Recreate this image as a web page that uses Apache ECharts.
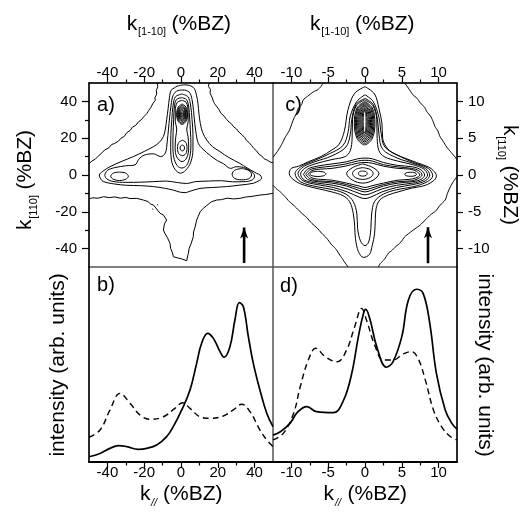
<!DOCTYPE html>
<html><head><meta charset="utf-8">
<script src="https://cdn.jsdelivr.net/npm/echarts@6/dist/echarts.min.js"></script>
<style>html,body{margin:0;padding:0;background:#fff}#c{width:532px;height:515px}</style>
</head><body><div id="c"></div>
<script>
// ---------- tick labels ----------
const ticksA = [-40, -20, 0, 20, 40];
const minorA = [-30, -10, 10, 30];
const ticksC = [-10, -5, 0, 5, 10];
const minorC = [-7.5, -2.5, 2.5, 7.5];

// ---------- panel a) contours (k[1-10], k[110]) ----------
const aOuterLeft = [[-13,50],[-12.6,48],[-13.4,46],[-13.2,44],[-14.2,42],[-14,40.5],[-15.2,39],[-16.5,36.5],[-17.6,35],[-18.5,33.4],[-20.3,31.6],[-21.6,30],[-23,29],[-24.6,27],[-26.4,26],[-27.6,24.2],[-29.5,23],[-30.8,21],[-32.6,20],[-34,18.4],[-36,17.2],[-37.8,16.5],[-39.4,14.6],[-41.5,13.6],[-43,12],[-45,10.2],[-46.6,8.6],[-48.4,7.6],[-50,6.2]];
const aOuterRight = [[15.2,50],[15,48],[16,46.5],[15.8,44.5],[16.8,42.4],[17.6,40],[18.2,38.8],[19.6,37],[20.6,35.6],[21.6,33.7],[23.4,32],[24.8,30.2],[26.1,28.8],[27.4,27.8],[28.6,26.2],[30.2,25],[31.4,23.4],[33,22],[34.6,20.4],[35.6,18.8],[37,17.6],[38.4,16],[39.6,14.4],[41,13.2],[42.4,11.2],[43.8,10.4],[45.2,8.8],[47,8],[48.6,7],[50,6.6]];
const aBottom = [[-50,-13],[-48,-12.4],[-45,-12.6],[-42,-11.8],[-39,-12.3],[-36,-11.9],[-33,-12.6],[-30,-12.2],[-27.7,-12.8],[-24,-12.7],[-20.5,-13.6],[-18,-14.4],[-16.5,-15.8],[-15,-16.3],[-13.6,-18],[-11.4,-20.8],[-9.5,-21.8],[-7.8,-24.5],[-9,-26.6],[-9.6,-29.9],[-8.6,-32],[-7.4,-34],[-6,-37.1],[-5.6,-40],[-4.6,-42.4],[-4.2,-44.4],[-2,-45],[0.4,-45.6],[3.1,-46.6],[3.6,-44],[4,-42.6],[4.4,-40],[5.6,-37],[6.7,-33.5],[6.8,-31],[7.6,-28.5],[8.5,-24.5],[9.4,-22.4],[10.4,-20],[12.1,-18.1],[14,-16.6],[16.4,-14.6],[19.4,-13.6],[22,-13.4],[25,-12.6],[28.6,-13],[32,-12.7],[35,-12],[38.6,-11.6],[42.9,-10.9],[46,-10.6],[50,-10]];
const aSpeck1 = [[-13,-16],[-12.4,-16.4]];
const aSpeck2 = [[-15.6,-18.3],[-15,-18.8]];
const aL2 = [[1.6,49],[-2,48.3],[-3.8,47.2],[-5.4,46],[-6.3,42],[-7,36],[-7.8,30],[-8.5,25],[-9.6,20.8],[-12,17.5],[-15,15.4],[-20,12.8],[-25.9,10],[-32,7.5],[-38.6,4.5],[-42.5,2],[-44.4,0],[-43.5,-2.3],[-42.2,-3.6],[-36,-4.9],[-29.5,-5.6],[-22,-5.8],[-15,-6.3],[-9,-7.2],[-4.2,-8.2],[-1,-9.2],[2.2,-9.6],[5,-8.8],[10.3,-7.3],[17,-6.8],[24.8,-6.3],[32,-5.5],[39.3,-4.5],[42.5,-3],[43.8,-1.8],[43,0],[41.1,0.9],[36,3.8],[32,6.3],[26,9.5],[21.2,12.7],[17,15.5],[14,19],[11.8,23],[10.5,28],[9.8,33],[9.2,39],[8.5,43],[7.2,47],[4.5,48.7],[1.6,49]];
const aL3 = [[-41.5,0],[-40,2.5],[-36,4],[-30,5],[-25,5.5],[-23,8.5],[-20,10.8],[-15,11.5],[-11,10],[-8.5,12],[-7.5,18],[-6.8,25],[-6.2,31],[-5.4,38],[-4.4,43],[-2.5,45.5],[1,46.2],[4.5,45],[6,41],[6.8,35],[7.5,28],[8.3,22],[9.5,17],[12,14],[16,10.5],[19.8,7.8],[23,6.2],[27,3.6],[30,4.5],[34,4.1],[38,2],[40,-0.5],[39,-2.5],[35,-3.6],[28,-3.7],[22,-3.1],[15,-3.3],[8,-3.6],[3,-4.6],[-2,-4.1],[-8,-3.3],[-15,-3.6],[-22,-3.9],[-30,-4],[-37,-3.5],[-40.5,-2],[-41.5,0]];
const aLobeL = [[-33.4,1.6],[-36.8,1],[-38.2,-0.7],[-36.8,-2.3],[-33.4,-3],[-30,-2.3],[-28.6,-0.7],[-30,1],[-33.4,1.6]];
const aLobeR = [[33,3.5],[29.2,2.6],[27.8,0.5],[29,-1.8],[33,-2.6],[36.8,-2],[38.4,0],[37,2.4],[33,3.5]];
const aCol1 = [[0.5,44],[-3,42.5],[-4.3,38],[-5,30],[-5.5,22],[-5.6,15],[-5.2,8],[-3.2,3],[-0.3,1],[2.5,2.5],[5.3,7],[6.5,14],[6.5,22],[6,30],[5.2,38],[3.8,42.5],[0.5,44]];
const aCol2 = [[0.5,42],[-2.5,41],[-3.6,37],[-4,30],[-4.3,23],[-4.4,16],[-3.9,9.5],[-2,5],[0.5,3.8],[3,5.2],[4.8,10],[5.4,17],[5.1,24],[4.7,31],[4.2,37],[3,41],[0.5,42]];
const aCol3 = [[0.6,40.5],[-2,39.5],[-3.1,35],[-3.1,29],[-2.3,25],[-2.8,21],[-3.2,15],[-2.3,9.8],[0.6,7.3],[3.1,9.3],[4.2,15],[3.8,21],[3.1,25],[3.9,29],[3.8,35],[2.8,39.5],[0.6,40.5]];
const aLow1 = [[0.7,18.9],[-1.2,17.7],[-1.9,14.7],[-1.2,11.6],[0.7,10.5],[2.6,11.6],[3.3,14.7],[2.6,17.7],[0.7,18.9]];
const aLow2 = [[0.7,16.3],[-0.2,15.8],[-0.5,14.7],[-0.2,13.6],[0.7,13.1],[1.6,13.6],[1.9,14.7],[1.6,15.8],[0.7,16.3]];
const aUp1 = [[0.6,38.6],[-1.5,36.9],[-2.4,33],[-1.5,29.2],[0.6,27.5],[2.7,29.2],[3.6,33],[2.7,36.9],[0.6,38.6]];
const aUp2 = [[0.6,37.9],[-1.2,36.4],[-2,33],[-1.2,29.6],[0.6,28.2],[2.4,29.6],[3.2,33],[2.4,36.4],[0.6,37.9]];
const aUp3 = [[0.6,37.2],[-0.9,35.9],[-1.6,33],[-0.9,30.1],[0.6,28.9],[2.1,30.1],[2.8,33],[2.1,35.9],[0.6,37.2]];
const aUp4 = [[0.6,36.5],[-0.7,35.5],[-1.25,33],[-0.7,30.6],[0.6,29.6],[1.9,30.6],[2.45,33],[1.9,35.5],[0.6,36.5]];
const aUp5 = [[0.6,35.8],[-0.45,35],[-0.9,33],[-0.45,31],[0.6,30.2],[1.65,31],[2.1,33],[1.65,35],[0.6,35.8]];
const aUp6 = [[0.6,35.1],[-0.2,34.5],[-0.55,33],[-0.2,31.5],[0.6,30.9],[1.4,31.5],[1.75,33],[1.4,34.5],[0.6,35.1]];
const aUp7 = [[0.6,34.4],[0.05,34],[-0.2,33],[0.05,32],[0.6,31.6],[1.15,32],[1.4,33],[1.15,34],[0.6,34.4]];
const aUp8 = [[0.6,33.8],[0.3,33.55],[0.15,33],[0.3,32.45],[0.6,32.2],[0.9,32.45],[1.05,33],[0.9,33.55],[0.6,33.8]];
const aArrow = [[34.3,-47.8],[34.3,-28.5]];

// ---------- panel c) contours ----------
const cTL = [[-5.7,12.5],[-6,12],[-6.4,11.6],[-7,11.3],[-7.8,10.7],[-8.4,10.2],[-8.6,9.6],[-9.1,9],[-9.3,8.4],[-9.7,7.6],[-10,6.8],[-10.3,6],[-10.8,5.2],[-11.1,4.6],[-11.4,4],[-11.9,3.2],[-12.5,2.4]];
const cTR = [[5.4,12.5],[5.9,11.8],[6.5,10.9],[7.1,10.4],[7.5,9.8],[8.1,9.2],[8.4,8.6],[8.9,8],[9.2,7.4],[9.5,6.6],[9.9,6],[10.2,5.2],[10.6,4.6],[11.1,3.8],[11.6,3.2],[12.1,2.6],[12.5,2.1]];
const cBR = [[12.5,-0.2],[12,-0.9],[11.6,-1.6],[11.2,-2.5],[10.9,-3.4],[10.2,-4.1],[9.6,-4.9],[8.9,-5.4],[8.2,-6.1],[7.5,-6.8],[6.8,-7.3],[6,-7.9],[5.4,-8.4],[4.8,-9.2],[4.2,-9.7],[3.6,-10.3],[3.2,-10.6],[2.6,-11.5],[2.1,-12],[1.8,-12.5]];
const cBL = [[-12.5,-1.4],[-12,-1.9],[-11.5,-2.3],[-10.9,-2.9],[-10.3,-3.6],[-9.6,-4.2],[-9,-4.8],[-8.6,-5.2],[-7.9,-5.8],[-7.2,-6.6],[-6.5,-7.2],[-5.9,-7.9],[-5.2,-8.6],[-4.6,-9.4],[-4,-10],[-3.6,-10.6],[-3.2,-11.2],[-2.8,-11.8],[-2.3,-12.5]];
const cL2 = [[0,12],[-1.4,11.1],[-2.3,8.9],[-2.8,6],[-3.5,4.2],[-4.5,3.4],[-6,2.5],[-7.7,1.8],[-9,1.2],[-10,0.9],[-10.3,0.2],[-9.5,-0.8],[-8.2,-1.4],[-6.2,-1.9],[-4.5,-2.3],[-3,-2.8],[-2.1,-3.6],[-1.6,-5.2],[-1.4,-7],[-1.3,-8.6],[-0.9,-10.4],[-0.2,-11.2],[0.6,-10.8],[1,-9.5],[1.3,-8],[1.4,-6],[1.5,-4.6],[2,-3.4],[3.2,-2.7],[4.5,-2.3],[6.3,-1.8],[8.2,-1.4],[9.4,-0.7],[9.7,-0.1],[9.3,0.6],[8.6,1.1],[7,1.7],[5.4,2.3],[3.8,3],[2.9,3.8],[2.4,5],[2.3,7],[1.9,9],[1.3,11],[0,12]];
const cL3 = [[0,10.9],[-1.1,10],[-2,8],[-2.3,5.8],[-3,4],[-4.8,2.9],[-6.8,2],[-8.6,1.2],[-9.5,0.2],[-8.8,-0.9],[-6.5,-1.6],[-4.3,-2],[-2.6,-2.6],[-1.6,-3.6],[-1.1,-5.3],[-1,-7.3],[-0.6,-9],[0,-9.6],[0.5,-9.1],[0.8,-7.3],[0.9,-5.3],[1.3,-3.6],[2.5,-2.6],[4.3,-2],[6.5,-1.6],[8.5,-0.9],[9.2,-0.1],[8.6,0.9],[6.6,1.7],[4.6,2.6],[2.7,3.8],[2.2,5.6],[1.9,7.8],[1.1,10],[0,10.9]];
const cL4 = [[0,10.4],[-1.2,9.6],[-1.8,7.5],[-2,5.5],[-2.6,3.8],[-4.5,2.6],[-6.8,1.8],[-8.4,1.1],[-9.1,0.2],[-8.4,-0.8],[-6.5,-1.3],[-4.3,-1.7],[-2.4,-2.3],[-0.8,-3],[0,-3.2],[0.8,-3],[2.3,-2.3],[4.3,-1.7],[6.5,-1.3],[8.2,-0.8],[8.8,0],[8.2,0.9],[6.5,1.6],[4.4,2.3],[2.4,3.5],[1.9,5.5],[1.7,7.5],[1.1,9.6],[0,10.4]];
const cL5 = [[-0.05,10.2],[-1.15,9.45],[-1.7,7.5],[-1.75,5],[-2,3.3],[-2.7,2.5],[-4.5,2.1],[-6.8,1.5],[-8.2,0.9],[-8.75,0.1],[-8.2,-0.7],[-6.5,-1.1],[-4.3,-1.4],[-2.4,-1.9],[-0.8,-2.5],[0,-2.7],[0.8,-2.5],[2.3,-1.9],[4.3,-1.4],[6.5,-1.1],[7.9,-0.7],[8.5,0],[8,0.8],[6.5,1.4],[4.4,1.9],[2.6,2.5],[1.9,3.3],[1.65,5],[1.6,7.5],[1.05,9.45],[-0.05,10.2]];
const cB1 = [[-8.35,0.1],[-7.8,0.8],[-6.5,1.2],[-4.5,1.5],[-2.5,1.8],[-1,2.2],[0,2.3],[1,2.2],[2.5,1.7],[4.5,1.3],[6.5,1.1],[7.6,0.7],[8.1,0],[7.6,-0.6],[6.5,-0.9],[4.5,-1.1],[2.5,-1.5],[0.8,-2.1],[0,-2.3],[-0.8,-2.1],[-2.5,-1.5],[-4.5,-1.1],[-6.5,-0.9],[-7.8,-0.6],[-8.35,0.1]];
const cB2 = [[-8.05,0.1],[-7.5,0.7],[-6.3,1],[-4.5,1.2],[-2.6,1.5],[-1,1.9],[0,2],[1,1.9],[2.5,1.4],[4.5,1.1],[6.3,0.9],[7.3,0.6],[7.75,0],[7.2,-0.5],[6.3,-0.8],[4.5,-0.9],[2.5,-1.3],[0.8,-1.8],[0,-2],[-0.8,-1.8],[-2.5,-1.3],[-4.5,-0.9],[-6.3,-0.8],[-7.5,-0.5],[-8.05,0.1]];
const cB3 = [[-7.75,0.1],[-7.2,0.6],[-6,0.8],[-4.5,0.9],[-2.7,1.2],[-1,1.6],[0,1.7],[1,1.6],[2.5,1.2],[4.5,0.9],[6,0.8],[7,0.5],[7.45,0],[6.9,-0.4],[6,-0.6],[4.5,-0.7],[2.5,-1.1],[0.8,-1.5],[0,-1.7],[-0.8,-1.5],[-2.5,-1.1],[-4.5,-0.7],[-6,-0.6],[-7.2,-0.4],[-7.75,0.1]];
const cLobeL = [[-6.4,0.5],[-7.2,0.4],[-7.5,0.15],[-7.2,-0.1],[-6.4,-0.2],[-5.6,-0.1],[-5.3,0.15],[-5.6,0.4],[-6.4,0.5]];
const cLobeR = [[6.2,0.38],[5.6,0.3],[5.4,0.1],[5.6,-0.1],[6.2,-0.18],[6.8,-0.1],[7,0.1],[6.8,0.3],[6.2,0.38]];
const cP1 = [[-0.3,1.5],[-1.7,1],[-2.5,0.2],[-1.7,-0.7],[-0.3,-1.1],[1.1,-0.7],[1.9,0.2],[1.1,1],[-0.3,1.5]];
const cP2 = [[-0.3,1],[-1.3,0.75],[-1.7,0.2],[-1.3,-0.35],[-0.3,-0.6],[0.7,-0.35],[1.1,0.2],[0.7,0.75],[-0.3,1]];
const cP3 = [[-0.3,0.55],[-0.75,0.45],[-0.9,0.2],[-0.75,-0.05],[-0.3,-0.15],[0.15,-0.05],[0.3,0.2],[0.15,0.45],[-0.3,0.55]];
const cK1 = [[-0.05,10],[-1.1,9.1],[-1.45,7.05],[-1.1,5],[-0.05,4.1],[1,5],[1.35,7.05],[1,9.1],[-0.05,10]];
const cK2 = [[-0.05,9.85],[-0.99,9.02],[-1.3,7.08],[-0.99,5.13],[-0.05,4.3],[0.89,5.13],[1.2,7.08],[0.89,9.02],[-0.05,9.85]];
const cK3 = [[-0.05,9.7],[-0.88,8.92],[-1.15,7.1],[-0.88,5.28],[-0.05,4.5],[0.78,5.28],[1.05,7.1],[0.78,8.92],[-0.05,9.7]];
const cK4 = [[-0.05,9.55],[-0.76,8.82],[-1,7.13],[-0.76,5.43],[-0.05,4.7],[0.66,5.43],[0.9,7.13],[0.66,8.82],[-0.05,9.55]];
const cK5 = [[-0.05,9.4],[-0.65,8.73],[-0.85,7.15],[-0.65,5.57],[-0.05,4.9],[0.55,5.57],[0.75,7.15],[0.55,8.73],[-0.05,9.4]];
const cK6 = [[-0.05,9.25],[-0.54,8.63],[-0.7,7.18],[-0.54,5.72],[-0.05,5.1],[0.44,5.72],[0.6,7.18],[0.44,8.63],[-0.05,9.25]];
const cK7 = [[-0.05,9.1],[-0.43,8.53],[-0.55,7.2],[-0.43,5.87],[-0.05,5.3],[0.33,5.87],[0.45,7.2],[0.33,8.53],[-0.05,9.1]];
const cK8 = [[-0.05,8.95],[-0.31,8.43],[-0.4,7.23],[-0.31,6.02],[-0.05,5.5],[0.21,6.02],[0.3,7.23],[0.21,8.43],[-0.05,8.95]];
const cK9 = [[-0.05,8.8],[-0.2,8.34],[-0.25,7.25],[-0.2,6.16],[-0.05,5.7],[0.1,6.16],[0.15,7.25],[0.1,8.34],[-0.05,8.8]];
const cArrow = [[8.56,-12],[8.56,-7.1]];

// ---------- panel b) and d) intensity profiles ----------
const bSolid = [[-50,2.7],[-44,4.4],[-38.6,7],[-34,8.4],[-29.5,7.9],[-23.2,6.5],[-18.6,7],[-13.2,8.7],[-7.8,13],[-4.2,18.1],[0.4,26.7],[4.9,36.9],[8.5,50.6],[11.2,60.9],[14.5,66],[17.6,63.4],[21.2,56.6],[23.4,53.7],[26.6,59.1],[29.3,72.8],[31.7,81.7],[33.9,79.6],[36.6,64.3],[39.3,50.6],[42.9,36.9],[46.6,25],[50,18.1]];
const bDash = [[-50,12.7],[-44,16.4],[-38.6,26.7],[-33.2,35.2],[-27.7,30.1],[-22.3,24.1],[-16.8,21.9],[-9.6,23.2],[-3.3,27.5],[0.9,30.4],[4.9,27.5],[10.3,23.2],[15.8,22.4],[23,23.6],[28.4,26.7],[33,29.6],[37.5,25.8],[42.9,16.4],[46.6,11.3],[50,7.9]];
const dSolid = [[-12.5,13.8],[-11.5,15.5],[-10.2,19.8],[-9.1,25.8],[-7.9,28.4],[-6.6,25.8],[-4.3,25.3],[-2.9,31.8],[-1.8,45.5],[-0.9,64.3],[-0.2,76.3],[0.1,78.3],[0.7,72.8],[1.6,59.1],[2.9,48.6],[3.8,51.4],[5,64.3],[5.9,83.1],[7,88.6],[7.9,86.5],[8.8,71.1],[9.7,45.5],[10.9,26.7],[11.8,19.8],[12.5,16.8]];
const dDash = [[-12.5,11.3],[-11.1,14.7],[-9.7,25],[-8.8,38.6],[-7.7,52.3],[-6.7,58.3],[-5.4,54],[-3.8,51.4],[-2.5,57.4],[-1.4,69.4],[-0.45,78.8],[0.2,72.8],[1.4,59.1],[2.5,52.3],[3.8,52.3],[5.2,55.4],[6.3,56.6],[7.2,53.2],[8.2,42],[9.3,26.7],[10.4,18.1],[11.5,13.3],[12.5,11.3]];

// ---------- chart ----------
const FONT = '"Liberation Sans", Arial, Helvetica, sans-serif';
const chart = echarts.init(document.getElementById('c'), null, {renderer: 'canvas', width: 532, height: 515});

function line(data, gi, smooth, extra) {
  return Object.assign({
    type: 'line', xAxisIndex: gi, yAxisIndex: gi, data: data, symbol: 'none',
    smooth: smooth, silent: true, animation: false, emphasis: {disabled: true},
    lineStyle: {color: '#000', width: 1}, z: 3
  }, extra || {});
}
function arrow(data, gi) {
  return {
    type: 'line', xAxisIndex: gi, yAxisIndex: gi, data: data, silent: true, animation: false,
    emphasis: {disabled: true}, showSymbol: true,
    symbol: function (v, p) { return p.dataIndex === 1 ? 'arrow' : 'none'; },
    symbolSize: [6, 11], itemStyle: {color: '#000'},
    lineStyle: {color: '#000', width: 2.6}, z: 4
  };
}

const series = [];
[aOuterLeft, aOuterRight, aBottom, aSpeck1, aSpeck2].forEach(d => series.push(line(d, 0, false)));
[aL2, aL3, aLobeL, aLobeR, aCol1, aCol2, aCol3, aLow1, aLow2, aUp1, aUp2, aUp3, aUp4, aUp5, aUp6, aUp7, aUp8]
  .forEach(d => series.push(line(d, 0, 0.35)));
series.push(arrow(aArrow, 0));
[cTL, cTR, cBR, cBL].forEach(d => series.push(line(d, 1, 0.2)));
[cL2, cL3, cL4, cL5, cB1, cB2, cB3, cLobeL, cLobeR, cP1, cP2, cP3, cK1, cK2, cK3, cK4, cK5, cK6, cK7, cK8, cK9]
  .forEach(d => series.push(line(d, 1, 0.35)));
series.push(arrow(cArrow, 1));
series.push(line(bSolid, 2, 0.4, {lineStyle: {color: '#000', width: 1.7}}));
series.push(line(bDash, 2, 0.4, {lineStyle: {color: '#000', width: 1.4, type: [6, 4]}}));
series.push(line(dSolid, 3, 0.4, {lineStyle: {color: '#000', width: 1.7}}));
series.push(line(dDash, 3, 0.4, {lineStyle: {color: '#000', width: 1.4, type: [6, 4]}}));

const rects = [
  {left: 89, top: 83, width: 184, height: 184},
  {left: 273, top: 83, width: 184, height: 184},
  {left: 89, top: 267, width: 184, height: 195},
  {left: 273, top: 267, width: 184, height: 195}
];
const grids = rects.map(r => Object.assign({show: true, borderColor: '#555', borderWidth: 1, backgroundColor: 'transparent'}, r))
  .concat(rects.map(r => Object.assign({show: false}, r)));

const lab = {color: '#000', fontSize: 15, fontFamily: FONT};
const blk = {color: '#000', width: 1.2};
function majorAxis(gi, pos, min, max, vals, tickLen, margin, lineW) {
  return {
    gridIndex: gi, type: 'value', position: pos, min: min, max: max,
    axisLine: {show: true, onZero: false, lineStyle: {color: '#000', width: lineW}},
    axisTick: {show: true, customValues: vals, length: tickLen, lineStyle: blk},
    axisLabel: Object.assign({show: true, customValues: vals, margin: margin}, lab),
    splitLine: {show: false}
  };
}
function minorAxis(gi, pos, min, max, vals, tickLen) {
  return {
    gridIndex: gi, type: 'value', position: pos, min: min, max: max,
    axisLine: {show: false, onZero: false},
    axisTick: {show: true, customValues: vals, length: tickLen, lineStyle: blk},
    axisLabel: {show: false}, splitLine: {show: false}
  };
}
function plainY(gi, pos, showLine) {
  return {
    gridIndex: gi, type: 'value', position: pos, min: 0, max: 100,
    axisLine: {show: showLine, onZero: false, lineStyle: {color: '#000', width: 1.5}},
    axisTick: {show: false}, axisLabel: {show: false}, splitLine: {show: false}
  };
}

const xAxis = [
  majorAxis(0, 'top', -50, 50, ticksA, 6, 3, 1.5),
  majorAxis(1, 'top', -12.5, 12.5, ticksC, 6, 3, 1.5),
  majorAxis(2, 'bottom', -50, 50, ticksA, 6, 3, 2),
  majorAxis(3, 'bottom', -12.5, 12.5, ticksC, 6, 3, 2),
  minorAxis(4, 'top', -50, 50, minorA, 3.5),
  minorAxis(5, 'top', -12.5, 12.5, minorC, 3.5),
  minorAxis(6, 'bottom', -50, 50, minorA, 3.5),
  minorAxis(7, 'bottom', -12.5, 12.5, minorC, 3.5)
];
const yAxis = [
  majorAxis(0, 'left', -50, 50, ticksA, 7, 12, 1.5),
  majorAxis(1, 'right', -12.5, 12.5, ticksC, 6, 11, 1.5),
  plainY(2, 'left', true),
  plainY(3, 'right', true),
  minorAxis(4, 'left', -50, 50, minorA, 4),
  minorAxis(5, 'right', -12.5, 12.5, minorC, 4),
  plainY(6, 'left', false),
  plainY(7, 'right', false)
];

function T(x, y, text, size, opts) {
  const o = opts || {};
  return {
    type: 'text', x: x, y: y, silent: true,
    style: {
      text: text, font: (o.italic ? 'italic ' : '') + size + 'px ' + FONT, fill: '#000',
      align: o.align || 'left', verticalAlign: 'middle',
      textAlign: o.align || 'left', textVerticalAlign: 'middle'
    }
  };
}

const graphic = [
  T(126.7, 24.1, 'k', 21), T(138, 32.4, '[1-10]', 11), T(171.5, 24.1, '(%BZ)', 21),
  T(310, 24.1, 'k', 21), T(321.3, 32.4, '[1-10]', 11), T(355, 24.1, '(%BZ)', 21),
  T(140, 494, 'k', 21), T(151, 503, '//', 11, {italic: true}), T(163, 494, '(%BZ)', 21),
  T(323.5, 494, 'k', 21), T(335, 503, '//', 11, {italic: true}), T(347.5, 494, '(%BZ)', 21),
  {type: 'group', x: 33, y: 230, rotation: Math.PI / 2,
   children: [T(0, -7.6, 'k', 21), T(11.3, 0.7, '[110]', 11), T(40.5, -7.6, '(%BZ)', 21)]},
  {type: 'group', x: 502, y: 125, rotation: -Math.PI / 2,
   children: [T(0, -7.6, 'k', 21), T(11.3, 0.7, '[110]', 11), T(40.5, -7.6, '(%BZ)', 21)]},
  Object.assign(T(58, 365, 'intensity (arb. units)', 21, {align: 'center'}), {rotation: Math.PI / 2}),
  Object.assign(T(485, 365, 'intensity (arb. units)', 21, {align: 'center'}), {rotation: -Math.PI / 2}),
  T(106, 105, 'a)', 20, {align: 'center'}),
  T(293.5, 105, 'c)', 20, {align: 'center'}),
  T(106, 285, 'b)', 20, {align: 'center'}),
  T(289, 286, 'd)', 20, {align: 'center'})
];

chart.setOption({
  animation: false,
  backgroundColor: '#fff',
  grid: grids,
  xAxis: xAxis,
  yAxis: yAxis,
  series: series,
  graphic: graphic
});
</script>
</body></html>
